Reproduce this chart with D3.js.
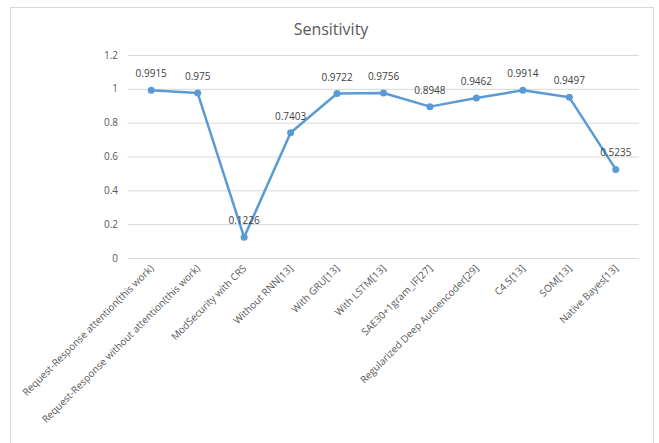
<!DOCTYPE html>
<meta charset="utf-8">
<style>
body { margin: 0; background: #fff; }
text { font-family: "Open Sans", Lato, sans-serif; }
.grid line { stroke: #d9d9d9; }
.grid .domain { display: none; }
</style>
<svg width="659" height="443"></svg>
<script src="https://d3js.org/d3.v7.min.js"></script>
<script>

var categories = [
  "Request-Response attention(this work)",
  "Request-Response without attention(this work)",
  "ModSecurity with CRS",
  "Without RNN[13]",
  "With GRU[13]",
  "With LSTM[13]",
  "SAE30+1gram_IF[27]",
  "Regularized Deep Autoencoder[29]",
  "C4.5[13]",
  "SOM[13]",
  "Native Bayes[13]"
];
var sensitivity = [0.9915, 0.975, 0.1226, 0.7403, 0.9722, 0.9756, 0.8948, 0.9462, 0.9914, 0.9497, 0.5235];
var yTicks = [0, 0.2, 0.4, 0.6, 0.8, 1, 1.2];

var svg = d3.select("svg"),
    width = +svg.attr("width"),
    height = +svg.attr("height");

svg.append("rect")
    .attr("x", 10.5).attr("y", 7.5)
    .attr("width", 643).attr("height", 440)
    .attr("fill", "#fff")
    .attr("stroke", "#d9d9d9");

var x = d3.scaleBand()
    .domain(categories)
    .range([128, 639]);

var y = d3.scaleLinear()
    .domain([0, 1.2])
    .range([258, 55]);

svg.append("text")
    .attr("x", 331)
    .attr("y", 35)
    .attr("text-anchor", "middle")
    .attr("font-size", 16)
    .attr("fill", "#595959")
    .text("Sensitivity");

var grid = svg.append("g")
    .attr("class", "grid")
    .attr("transform", "translate(128,0)")
    .call(d3.axisLeft(y).tickValues(yTicks).tickSize(-511).tickFormat(""));

svg.selectAll(".ylab")
  .data(yTicks)
  .enter().append("text")
    .attr("class", "ylab")
    .attr("x", 118)
    .attr("y", function(d) { return y(d) + 3.5; })
    .attr("text-anchor", "end")
    .attr("font-size", 10)
    .attr("fill", "#595959")
    .text(function(d) { return d; });

svg.selectAll(".xlab")
  .data(categories)
  .enter().append("text")
    .attr("class", "xlab")
    .attr("text-anchor", "end")
    .attr("font-size", 10)
    .attr("fill", "#595959")
    .attr("transform", function(d) {
      return "translate(" + (x(d) + x.bandwidth() / 2 + 3) + ",269) rotate(-45)";
    })
    .text(function(d) { return d; });

var line = d3.line()
    .x(function(d, i) { return x(categories[i]) + x.bandwidth() / 2; })
    .y(function(d) { return y(d); });

svg.append("path")
    .datum(sensitivity)
    .attr("fill", "none")
    .attr("stroke", "#5b9bd5")
    .attr("stroke-width", 2.5)
    .attr("stroke-linejoin", "round")
    .attr("d", line);

svg.selectAll(".dot")
  .data(sensitivity)
  .enter().append("circle")
    .attr("class", "dot")
    .attr("cx", function(d, i) { return x(categories[i]) + x.bandwidth() / 2; })
    .attr("cy", function(d) { return y(d); })
    .attr("r", 3.5)
    .attr("fill", "#5b9bd5");

svg.selectAll(".val")
  .data(sensitivity)
  .enter().append("text")
    .attr("class", "val")
    .attr("x", function(d, i) { return x(categories[i]) + x.bandwidth() / 2; })
    .attr("y", function(d) { return y(d) - 13; })
    .attr("text-anchor", "middle")
    .attr("font-size", 10)
    .attr("fill", "#404040")
    .text(function(d) { return d; });

</script>
